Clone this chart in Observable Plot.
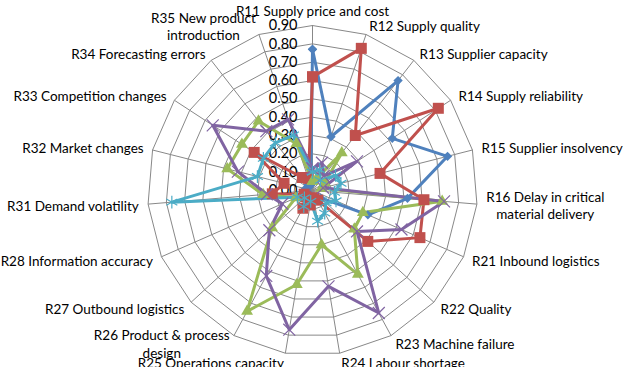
<!DOCTYPE html>
<html>
<head>
<meta charset="utf-8">
<script src="https://cdn.jsdelivr.net/npm/d3@7"></script>
<script src="https://cdn.jsdelivr.net/npm/@observablehq/plot@0.6"></script>
<style>
  html, body { margin: 0; padding: 0; background: #fff; }
  #chart svg { display: block; }
</style>
</head>
<body>
<div id="chart"></div>
<script>
// Risk categories, clockwise from the top
const categories = [
  "R11 Supply price and cost",
  "R12 Supply quality",
  "R13 Supplier capacity",
  "R14 Supply reliability",
  "R15 Supplier insolvency",
  "R16 Delay in critical\nmaterial delivery",
  "R21 Inbound logistics",
  "R22 Quality",
  "R23 Machine failure",
  "R24 Labour shortage",
  "R25 Operations capacity",
  "R26 Product & process\ndesign",
  "R27 Outbound logistics",
  "R28 Information accuracy",
  "R31 Demand volatility",
  "R32 Market changes",
  "R33 Competition changes",
  "R34 Forecasting errors",
  "R35 New product\nintroduction"
];

// Radial tick values
const tickValues = [0, 0.1, 0.2, 0.3, 0.4, 0.5, 0.6, 0.7, 0.8, 0.9];

// Series values, one per category
const series1 = [0.77, 0.31, 0.76, 0.52, 0.76, 0.52, 0.33, 0.06, 0.05, 0.04, 0.03, 0.04, 0.05, 0.04, 0.03, 0.04, 0.03, 0.04, 0.03];
const series2 = [0.62, 0.82, 0.38, 0.82, 0.38, 0.61, 0.64, 0.41, 0.06, 0.04, 0.08, 0.11, 0.05, 0.05, 0.22, 0.16, 0.38, 0.09, 0.07];
const series3 = [0.05, 0.07, 0.26, 0.08, 0.05, 0.71, 0.30, 0.31, 0.52, 0.30, 0.52, 0.75, 0.30, 0.10, 0.27, 0.48, 0.46, 0.48, 0.27];
const series4 = [0.12, 0.16, 0.10, 0.29, 0.06, 0.72, 0.53, 0.33, 0.76, 0.53, 0.77, 0.53, 0.32, 0.18, 0.25, 0.42, 0.65, 0.41, 0.41];
const series5 = [0.10, 0.12, 0.07, 0.15, 0.16, 0.12, 0.14, 0.10, 0.14, 0.17, 0.06, 0.10, 0.06, 0.09, 0.77, 0.31, 0.32, 0.33, 0.32];

const seriesNames = ["Series1", "Series2", "Series3", "Series4", "Series5"];
const seriesValues = [series1, series2, series3, series4, series5];
const seriesColors = ["#4F81BD", "#C0504D", "#9BBB59", "#8064A2", "#4BACC6"];
const seriesSymbols = ["diamond2", "square", "triangle", "times", "asterisk"];

const n = categories.length;
const maxR = 0.9;
const angle = i => (2 * Math.PI * i) / n;
const px = (i, v) => v * Math.sin(angle(i));
const py = (i, v) => v * Math.cos(angle(i));

const W = 623, H = 367;
const unit = 183.3;       // pixels per unit of value
const cx = 312, cy = 190; // chart centre in pixels

// Closed polygon for each grid ring
const rings = [];
for (const t of tickValues.slice(1)) {
  for (let i = 0; i <= n; i++) rings.push({t, x: px(i % n, t), y: py(i % n, t)});
}
const spokes = categories.map((c, i) => ({x: px(i, maxR), y: py(i, maxR)}));

// Closed polygon for each series
const rows = [];
seriesNames.forEach((s, k) => {
  for (let i = 0; i <= n; i++) {
    const v = seriesValues[k][i % n];
    rows.push({series: s, idx: i % n, value: v, x: px(i % n, v), y: py(i % n, v)});
  }
});

const fontSize = 13.5;
const ctx = document.createElement("canvas").getContext("2d");
ctx.font = `${fontSize}px Lato`;
const textWidth = s => Math.max(...s.split("\n").map(l => ctx.measureText(l).width));

// Category labels sit just outside the outer ring; multi-line labels are centred blocks
const labelR = 0.95;
const labels = categories.map((c, i) => {
  const s = Math.sin(angle(i));
  const side = s > 0.05 ? 1 : s < -0.05 ? -1 : 0;
  const half = textWidth(c) / 2 / unit;
  return {text: c, i, x: px(i, labelR) + side * half, y: py(i, labelR), top: i === 0};
});

const marks = [
  Plot.line(rings, {x: "x", y: "y", z: "t", stroke: "#888", strokeWidth: 1}),
  Plot.link(spokes, {x1: 0, y1: 0, x2: "x", y2: "y", stroke: "#888", strokeWidth: 1}),
  Plot.text(tickValues, {x: 0, y: d => d, text: d => d.toFixed(2), textAnchor: "end", dx: -15, fill: "#000", fontSize: 14.5}),
  Plot.text(labels.filter(d => !d.top), {x: "x", y: "y", text: "text", textAnchor: "middle", lineAnchor: "middle", lineHeight: 1.3, fill: "#000", fontSize}),
  Plot.text(labels.filter(d => d.top), {x: "x", y: "y", text: "text", textAnchor: "middle", lineAnchor: "bottom", fill: "#000", fontSize}),
  Plot.line(rows, {x: "x", y: "y", z: "series", stroke: "series", strokeWidth: 3, strokeLinejoin: "round"})
];
seriesNames.forEach((s, k) => {
  const pts = rows.filter(d => d.series === s);
  const filled = k < 3;
  marks.push(Plot.dot(pts, {
    x: "x", y: "y",
    symbol: () => seriesSymbols[k],
    r: [4.2, 6.2, 4.4, 5.5, 6][k],
    fill: filled ? seriesColors[k] : "none",
    stroke: seriesColors[k],
    strokeWidth: filled ? 0 : 1.2
  }));
});

const chart = Plot.plot({
  width: W,
  height: H,
  margin: 0,
  style: {fontFamily: "Lato, sans-serif", fontSize: `${fontSize}px`, background: "#fff"},
  x: {domain: [-cx / unit, (W - cx) / unit], range: [0, W], axis: null},
  y: {domain: [-(H - cy) / unit, cy / unit], range: [H, 0], axis: null},
  color: {domain: seriesNames, range: seriesColors},
  symbol: {type: "identity"},
  marks
});
document.getElementById("chart").appendChild(chart);
</script>
</body>
</html>
